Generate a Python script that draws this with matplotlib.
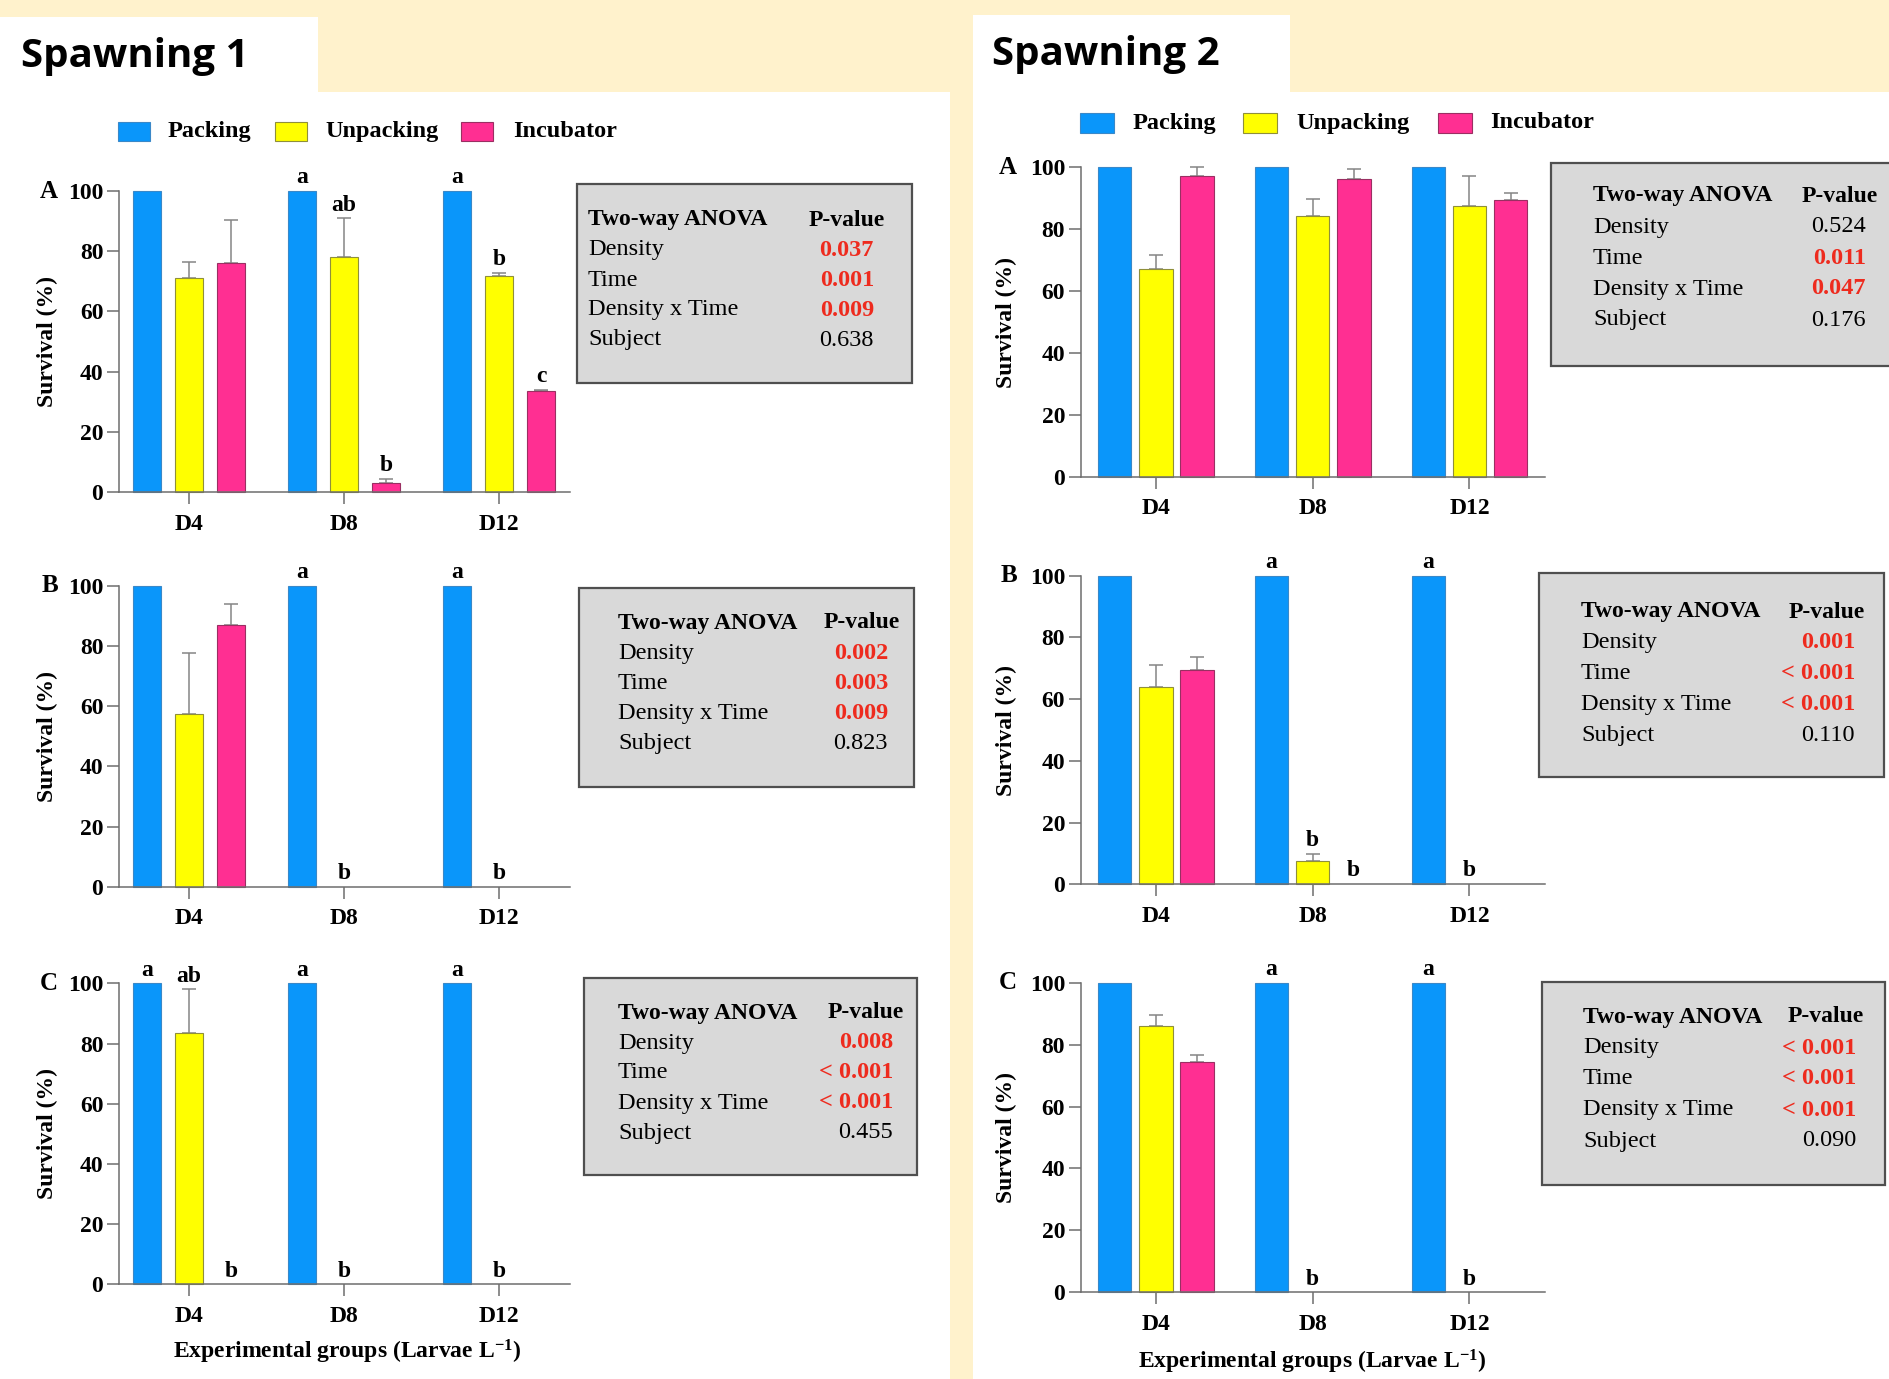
import numpy as np
import matplotlib
matplotlib.use("Agg")
import matplotlib.pyplot as plt
from matplotlib.patches import Rectangle

plt.rcParams['font.family'] = ['Liberation Serif', 'DejaVu Serif']
plt.rcParams['mathtext.fontset'] = 'custom'
plt.rcParams['mathtext.rm'] = 'Liberation Serif:bold'
plt.rcParams['mathtext.bf'] = 'Liberation Serif:bold'
plt.rcParams['mathtext.it'] = 'Liberation Serif:bold'

# ---- data ----
groups = ["D4", "D8", "D12"]
series = ["Packing", "Unpacking", "Incubator"]
colors = ["#0a96fa", "#ffff00", "#ff2f92"]
edges = ["#3a88c8", "#8f8f3a", "#9a2f62"]

# Spawning 1
s1_a_pack = [100, 100, 100]
s1_a_unp = [71.0, 78.0, 71.6]
s1_a_unp_err = [5.4, 12.9, 1.3]
s1_a_inc = [76.2, 3.1, 33.7]
s1_a_inc_err = [14.1, 1.3, 0.3]

s1_b_pack = [100, 100, 100]
s1_b_unp = [57.3, 0, 0]
s1_b_unp_err = [20.3, 0, 0]
s1_b_inc = [86.9, 0, 0]
s1_b_inc_err = [7.2, 0, 0]

s1_c_pack = [100, 100, 100]
s1_c_unp = [83.6, 0, 0]
s1_c_unp_err = [14.4, 0, 0]
s1_c_inc = [0, 0, 0]
s1_c_inc_err = [0, 0, 0]

# Spawning 2
s2_a_pack = [100, 100, 100]
s2_a_unp = [67.0, 84.2, 87.5]
s2_a_unp_err = [4.7, 5.4, 9.6]
s2_a_inc = [97.3, 96.1, 89.5]
s2_a_inc_err = [2.7, 3.4, 2.1]

s2_b_pack = [100, 100, 100]
s2_b_unp = [63.8, 7.5, 0]
s2_b_unp_err = [7.4, 2.3, 0]
s2_b_inc = [69.4, 0, 0]
s2_b_inc_err = [4.4, 0, 0]

s2_c_pack = [100, 100, 100]
s2_c_unp = [86.1, 0, 0]
s2_c_unp_err = [3.4, 0, 0]
s2_c_inc = [74.3, 0, 0]
s2_c_inc_err = [2.2, 0, 0]

# letters: (group, series, text)
s1_a_letters = [(1, 0, "a"), (1, 1, "ab"), (1, 2, "b"), (2, 0, "a"), (2, 1, "b"), (2, 2, "c")]
s1_b_letters = [(1, 0, "a"), (1, 1, "b"), (2, 0, "a"), (2, 1, "b")]
s1_c_letters = [(0, 0, "a"), (0, 1, "ab"), (0, 2, "b"), (1, 0, "a"), (1, 1, "b"), (2, 0, "a"), (2, 1, "b")]
s2_a_letters = []
s2_b_letters = [(1, 0, "a"), (1, 1, "b"), (1, 2, "b"), (2, 0, "a"), (2, 1, "b")]
s2_c_letters = [(1, 0, "a"), (1, 1, "b"), (2, 0, "a"), (2, 1, "b")]

anova_terms = ["Density", "Time", "Density x Time", "Subject"]
s1_a_p = ["0.037", "0.001", "0.009", "0.638"]
s1_b_p = ["0.002", "0.003", "0.009", "0.823"]
s1_c_p = ["0.008", "< 0.001", "< 0.001", "0.455"]
s2_a_p = ["0.524", "0.011", "0.047", "0.176"]
s2_b_p = ["0.001", "< 0.001", "< 0.001", "0.110"]
s2_c_p = ["< 0.001", "< 0.001", "< 0.001", "0.090"]

# ---- figure ----
W, H = 1889, 1379
fig = plt.figure(figsize=(W / 100, H / 100), dpi=100)
fig.patch.set_facecolor("#fff2cc")

bg = fig.add_axes([0, 0, 1, 1], zorder=0)
bg.set_xlim(0, W)
bg.set_ylim(H, 0)
bg.axis("off")
for r in [(0, 92, 950, H), (0, 17, 318, 92), (973, 92, W, H), (973, 15, 1290, 92)]:
    bg.add_patch(Rectangle((r[0], r[1]), r[2] - r[0], r[3] - r[1], facecolor="white", edgecolor="none"))

ov = fig.add_axes([0, 0, 1, 1], zorder=5)
ov.set_xlim(0, W)
ov.set_ylim(H, 0)
ov.axis("off")
ov.patch.set_alpha(0)

AX = "#6e6e6e"
RED = "#ee2b1e"


def bar_panel(x0, x1, ytop, ybot, xlim, width, pitch, pack, unp, unp_err, inc, inc_err, letters):
    ax = fig.add_axes([x0 / W, 1 - ybot / H, (x1 - x0) / W, (ybot - ytop) / H], zorder=2)
    ax.patch.set_alpha(0)
    x = np.arange(len(groups))
    vals = [pack, unp, inc]
    errs = [[0, 0, 0], unp_err, inc_err]
    for k in range(3):
        xs = x + (k - 1) * pitch
        v = np.array(vals[k], dtype=float)
        nz = v > 0
        ax.bar(xs[nz], v[nz], width, color=colors[k], edgecolor=edges[k], linewidth=0.8,
               zorder=2, clip_on=False)
        e = np.array(errs[k], dtype=float)
        m = e > 0
        if m.any():
            ax.errorbar(xs[m], v[m], yerr=[np.zeros(m.sum()), e[m]], fmt="none",
                        ecolor="#858585", elinewidth=1.1, capsize=4.7, capthick=1.1, zorder=1,
                        clip_on=False)
    for g, k, t in letters:
        top = vals[k][g] + errs[k][g]
        ax.annotate(t, (g + (k - 1) * pitch, top), xytext=(0, 2), textcoords="offset points",
                    ha="center", va="bottom", fontsize=17, fontweight="bold", annotation_clip=False)
    ax.set_xlim(*xlim)
    ax.set_ylim(0, 100)
    ax.set_yticks(range(0, 101, 20))
    ax.set_xticks(x, groups)
    for s in ["top", "right"]:
        ax.spines[s].set_visible(False)
    for s in ["left", "bottom"]:
        ax.spines[s].set_color(AX)
        ax.spines[s].set_linewidth(1.1)
    ax.tick_params(axis="y", length=9, width=1.1, color=AX, pad=2, labelsize=17)
    ax.tick_params(axis="x", length=8.5, width=1.1, color=AX, pad=7, labelsize=17)
    for lab in ax.get_xticklabels() + ax.get_yticklabels():
        lab.set_fontweight("bold")
    return ax


def anova_box(x0, y0, x1, y1, tx, pc, vr, hy, dy, pvals):
    ov.add_patch(Rectangle((x0, y0), x1 - x0, y1 - y0, facecolor="#d9d9d9", edgecolor="#4f4f4f",
                           linewidth=1.6, zorder=1))
    ov.text(tx, hy, "Two-way ANOVA", ha="left", va="center", fontsize=17, fontweight="bold")
    ov.text(pc, hy, "P-value", ha="center", va="center", fontsize=17, fontweight="bold")
    for i, (term, p) in enumerate(zip(anova_terms, pvals)):
        y = hy + dy * (i + 1)
        ov.text(tx, y, term, ha="left", va="center", fontsize=17.5)
        sig = p.startswith("<") or float(p) < 0.05
        ov.text(vr, y, p, ha="right", va="center", fontsize=17.5,
                color=RED if sig else "black", fontweight="bold" if sig else "normal")


def legend_row(px, tx, ytop, pw, ph):
    for k in range(3):
        ov.add_patch(Rectangle((px[k], ytop), pw, ph, facecolor=colors[k], edgecolor=edges[k],
                               linewidth=0.8))
        ov.text(tx[k], ytop + ph / 2, series[k], ha="left", va="center", fontsize=17.5,
                fontweight="bold")


# titles
ov.text(21, 57, "Spawning 1", ha="left", va="center", fontsize=29, fontweight="bold",
        family=["Open Sans", "DejaVu Sans"])
ov.text(992, 54, "Spawning 2", ha="left", va="center", fontsize=29, fontweight="bold",
        family=["Open Sans", "DejaVu Sans"])

legend_row([118, 275, 461], [168, 325, 513], 122, 32, 19)
legend_row([1080, 1243, 1438], [1133, 1296, 1490], 113, 34, 20)

# left column
L = (118.6, 570, (-0.454, 2.455), 0.18, 0.271)
bar_panel(L[0], L[1], 191, 492, L[2], L[3], L[4], s1_a_pack, s1_a_unp, s1_a_unp_err,
          s1_a_inc, s1_a_inc_err, s1_a_letters)
bar_panel(L[0], L[1], 586, 886.7, L[2], L[3], L[4], s1_b_pack, s1_b_unp, s1_b_unp_err,
          s1_b_inc, s1_b_inc_err, s1_b_letters)
bar_panel(L[0], L[1], 983.3, 1284.3, L[2], L[3], L[4], s1_c_pack, s1_c_unp, s1_c_unp_err,
          s1_c_inc, s1_c_inc_err, s1_c_letters)

# right column
R = (1080.5, 1544.8, (-0.479, 2.48), 0.215, 0.262)
bar_panel(R[0], R[1], 167.3, 476.9, R[2], R[3], R[4], s2_a_pack, s2_a_unp, s2_a_unp_err,
          s2_a_inc, s2_a_inc_err, s2_a_letters)
bar_panel(R[0], R[1], 575.8, 884.2, R[2], R[3], R[4], s2_b_pack, s2_b_unp, s2_b_unp_err,
          s2_b_inc, s2_b_inc_err, s2_b_letters)
bar_panel(R[0], R[1], 982.7, 1292.3, R[2], R[3], R[4], s2_c_pack, s2_c_unp, s2_c_unp_err,
          s2_c_inc, s2_c_inc_err, s2_c_letters)

# panel letters and y labels
for (lx, yl), mids in [((58, 47), [(191, 492), (586, 886.7), (983.3, 1284.3)]),
                       ((1017, 1006), [(167.3, 476.9), (575.8, 884.2), (982.7, 1292.3)])]:
    for letter, (yt, yb) in zip("ABC", mids):
        ov.text(lx, yt, letter, ha="right", va="center", fontsize=18, fontweight="bold")
        ov.text(yl, (yt + yb) / 2, "Survival (%)", rotation=90, ha="center", va="center",
                fontsize=17, fontweight="bold")

ov.text(346.6, 1351.7, "Experimental groups (Larvae L$^{-1}$)", ha="center", va="center",
        fontsize=17, fontweight="bold")
ov.text(1312, 1361.7, "Experimental groups (Larvae L$^{-1}$)", ha="center", va="center",
        fontsize=17, fontweight="bold")

# ANOVA boxes
anova_box(577, 184, 912, 383, 588, 847, 874, 220, 30, s1_a_p)
anova_box(579, 588, 914, 787, 618, 862, 888, 623, 30.2, s1_b_p)
anova_box(584, 978, 917, 1175, 618, 866, 893, 1013, 30, s1_c_p)
anova_box(1551, 163, 1900, 366, 1593, 1840, 1866, 196, 31, s2_a_p)
anova_box(1539, 573, 1884, 777, 1581, 1827, 1855, 612, 30.8, s2_b_p)
anova_box(1542, 982, 1885, 1185, 1583, 1826, 1856, 1017, 31, s2_c_p)

fig.savefig("out.png", dpi=100, facecolor=fig.get_facecolor())
